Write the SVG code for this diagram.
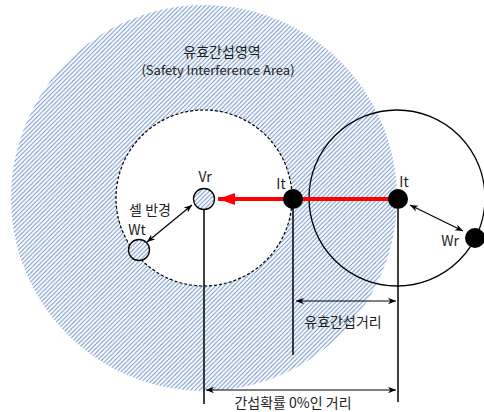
<svg xmlns="http://www.w3.org/2000/svg" width="484" height="412" viewBox="0 0 484 412">
<defs>
<pattern id="hatch" patternUnits="userSpaceOnUse" width="4.4" height="4.4">
<rect width="4.4" height="4.4" fill="#ffffff"/>
<path d="M-1,5.4 L5.4,-1 M-1,1 L1,-1 M3.4,5.4 L5.4,3.4" stroke="#6089c4" stroke-width="0.9"/>
</pattern>
<marker id="arr" viewBox="0 0 10 10" refX="10" refY="5" markerWidth="8" markerHeight="8" orient="auto-start-reverse" markerUnits="userSpaceOnUse">
<path d="M0,1 L10,5 L0,9 L3,5 Z" fill="#000"/>
</marker>
<marker id="redarr" viewBox="0 0 10 10" refX="10" refY="5" markerWidth="17" markerHeight="12" orient="auto" markerUnits="userSpaceOnUse" preserveAspectRatio="none">
<path d="M0,0 L10,5 L0,10 Z" fill="#ff0000"/>
</marker>
</defs>
<style>
text{font-family:"Malgun Gothic","Noto Sans CJK KR","Noto Sans",sans-serif;fill:#222;text-anchor:middle}
.lbl{font-size:14px}
.sm{font-size:13px}
.ln{stroke:#000;stroke-width:1.5;fill:none}
.dim{stroke:#000;stroke-width:1.2;fill:none}
.node{fill:#000}
.hnode{fill:url(#hatch);stroke:#000;stroke-width:1.3}
</style>
<g id="area">
<circle cx="204" cy="198" r="193" fill="url(#hatch)"/>
<text class="lbl" x="222" y="57">유효간섭영역</text>
<text class="sm" x="218" y="75">(Safety Interference Area)</text>
</g>
<g id="cell">
<circle cx="204" cy="198" r="88" fill="#fff" stroke="#000" stroke-width="1.2" stroke-dasharray="3,2"/>
</g>
<g id="range">
<circle cx="397" cy="198" r="88" fill="none" stroke="#000" stroke-width="1.3"/>
</g>
<g id="connectors">
<line x1="398" y1="199" x2="218" y2="199" stroke="#ff0000" stroke-width="4" marker-end="url(#redarr)"/>
<line class="ln" x1="204" y1="210" x2="204" y2="404"/>
<line class="ln" x1="293" y1="209" x2="293" y2="355"/>
<line class="ln" x1="398" y1="209" x2="398" y2="402"/>
<line class="dim" x1="296" y1="301" x2="396" y2="301" marker-start="url(#arr)" marker-end="url(#arr)"/>
<line class="dim" x1="206" y1="390" x2="396" y2="390" marker-start="url(#arr)" marker-end="url(#arr)"/>
<line class="dim" x1="192" y1="205" x2="147" y2="242" marker-start="url(#arr)" marker-end="url(#arr)"/>
<line class="dim" x1="410" y1="205" x2="463" y2="231" marker-start="url(#arr)" marker-end="url(#arr)"/>
</g>
<g id="Vr">
<circle class="hnode" cx="204" cy="199" r="10.5"/>
<text class="lbl" x="205" y="182">Vr</text>
</g>
<g id="Wt">
<circle class="hnode" cx="139" cy="250" r="10.5"/>
<text class="lbl" x="137" y="235">Wt</text>
</g>
<g id="It1">
<circle class="node" cx="293" cy="199" r="10"/>
<text class="lbl" x="281" y="189">It</text>
</g>
<g id="It2">
<circle class="node" cx="398" cy="199" r="10"/>
<text class="lbl" x="404" y="187">It</text>
</g>
<g id="Wr">
<circle class="node" cx="475" cy="238" r="10"/>
<text class="lbl" x="450" y="246">Wr</text>
</g>
<g id="labels">
<text class="lbl" x="150" y="215">셀 반경</text>
<text class="lbl" x="343" y="327">유효간섭거리</text>
<text class="lbl" x="293" y="408">간섭확률 0%인 거리</text>
</g>
</svg>
